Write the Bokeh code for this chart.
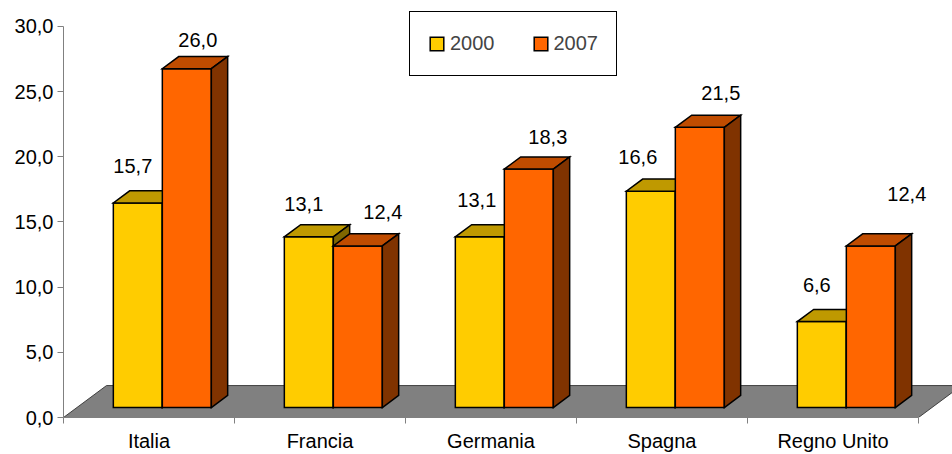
from bokeh.plotting import figure
from bokeh.models import (ColumnDataSource, FixedTicker, CustomJSTickFormatter,
                          Legend, LegendItem, Range1d)
from bokeh.core.properties import value
from bokeh.embed import file_html
from bokeh.resources import INLINE

# ---------------- data ----------------
categories = ["Italia", "Francia", "Germania", "Spagna", "Regno Unito"]
years = ["2000", "2007"]
values_2000 = [15.7, 13.1, 13.1, 16.6, 6.6]
values_2007 = [26.0, 12.4, 18.3, 21.5, 12.4]
y_ticks = [0, 5, 10, 15, 20, 25, 30]

# value-label nudges in screen pixels (right, up) from each bar's top-front centre
label_dx_2000 = [-5, -5, -3, -13, -5]
label_dy_2000 = [37, 33, 37, 34, 37]
label_dx_2007 = [11, 25, 19, 21, 36]
label_dy_2007 = [29, 34, 32, 34, 52]

# ---------------- style / geometry ----------------
FONT = "Liberation Sans"
PX_X = 171.0          # pixels per category
PX_Y = 13.067         # pixels per value unit
W = 49 / PX_X         # bar width
DX = 43 / PX_X        # full floor depth (x)
DY = 32 / PX_Y        # full floor depth (y)
F0, F1 = 0.31, 0.69   # bar depth span within floor

colors = {
    "2000": dict(front="#FFCC00", top="#BF9900", side="#806600"),
    "2007": dict(front="#FF6600", top="#C04C00", side="#803300"),
}

p = figure(width=952, height=454, output_backend="svg", toolbar_location=None,
           x_range=Range1d(0, 889 / PX_X), y_range=Range1d(0, 418 / PX_Y),
           min_border_left=63, min_border_right=0, min_border_top=0,
           min_border_bottom=36)
p.outline_line_color = None
p.grid.visible = False
p.background_fill_color = "white"
p.border_fill_color = "white"

# floor
n = len(categories)
p.patch([0, n, n + DX, DX], [0, 0, DY, DY], fill_color="#808080",
        line_color="#404040", line_width=1)

# bars
faces = {(y, f): dict(xs=[], ys=[]) for y in years for f in ("front", "top", "side")}
label_x, label_y, label_t = [], [], []
series = [("2000", values_2000, label_dx_2000, label_dy_2000),
          ("2007", values_2007, label_dx_2007, label_dy_2007)]
base_y = F0 * DY
ddx = (F1 - F0) * DX
ddy = (F1 - F0) * DY
for s, (yr, vals, ldx, ldy) in enumerate(series):
    for i, v in enumerate(vals):
        xl = i + 0.5 + F0 * DX + (s - 1) * W
        xr = xl + W
        top = base_y + v
        faces[(yr, "front")]["xs"].append([xl, xr, xr, xl])
        faces[(yr, "front")]["ys"].append([base_y, base_y, top, top])
        faces[(yr, "top")]["xs"].append([xl, xr, xr + ddx, xl + ddx])
        faces[(yr, "top")]["ys"].append([top, top, top + ddy, top + ddy])
        faces[(yr, "side")]["xs"].append([xr, xr + ddx, xr + ddx, xr])
        faces[(yr, "side")]["ys"].append([base_y, base_y + ddy, top + ddy, top])
        label_x.append((xl + xr) / 2 + ldx[i] / PX_X)
        label_y.append(top + ldy[i] / PX_Y)
        label_t.append(f"{v:.1f}".replace(".", ","))

renderers = {}
for yr in years:
    for f in ("front", "top", "side"):
        r = p.patches("xs", "ys", source=ColumnDataSource(faces[(yr, f)]),
                      fill_color=colors[yr][f], line_color="black",
                      line_width=1.5, line_join="miter")
        renderers[(yr, f)] = r

p.text(x=label_x, y=label_y, text=label_t, text_align="center",
       text_baseline="middle", text_font=value(FONT), text_font_size="20px",
       text_color="black")

# axes
yax = p.yaxis[0]
yax.ticker = FixedTicker(ticks=y_ticks)
yax.bounds = (0, 30)
yax.formatter = CustomJSTickFormatter(code="return tick.toFixed(1).replace('.', ',');")
yax.axis_line_color = "#808080"
yax.major_tick_line_color = "#808080"
yax.major_tick_out = 6
yax.major_tick_in = 0
yax.minor_tick_line_color = None
yax.major_label_standoff = 4
yax.major_label_text_font = FONT
yax.major_label_text_font_size = "20px"
yax.major_label_text_color = "black"

xax = p.xaxis[0]
xax.ticker = FixedTicker(ticks=[i + 0.5 for i in range(n)],
                         minor_ticks=list(range(n + 1)))
xax.bounds = (0, n)
xax.formatter = CustomJSTickFormatter(args=dict(labels=categories),
                                      code="return labels[Math.floor(tick)];")
xax.axis_line_color = "#808080"
xax.major_tick_line_color = None
xax.major_tick_out = 6
xax.major_tick_in = 0
xax.minor_tick_line_color = "#808080"
xax.minor_tick_out = 6
xax.minor_tick_in = 0
xax.major_label_standoff = 6
xax.major_label_text_font = FONT
xax.major_label_text_font_size = "20px"
xax.major_label_text_color = "black"

legend = Legend(items=[LegendItem(label=yr, renderers=[renderers[(yr, "front")]])
                       for yr in years],
                orientation="horizontal", location=(346, 341),
                glyph_width=17, glyph_height=17, label_standoff=5,
                label_height=27, padding=18, spacing=37, margin=0,
                label_text_font=FONT, label_text_font_size="20px",
                border_line_color="black", border_line_width=1,
                border_line_alpha=1.0,
                background_fill_color="white", background_fill_alpha=1.0)
p.add_layout(legend)

open("out.html", "w").write(file_html(p, INLINE))
